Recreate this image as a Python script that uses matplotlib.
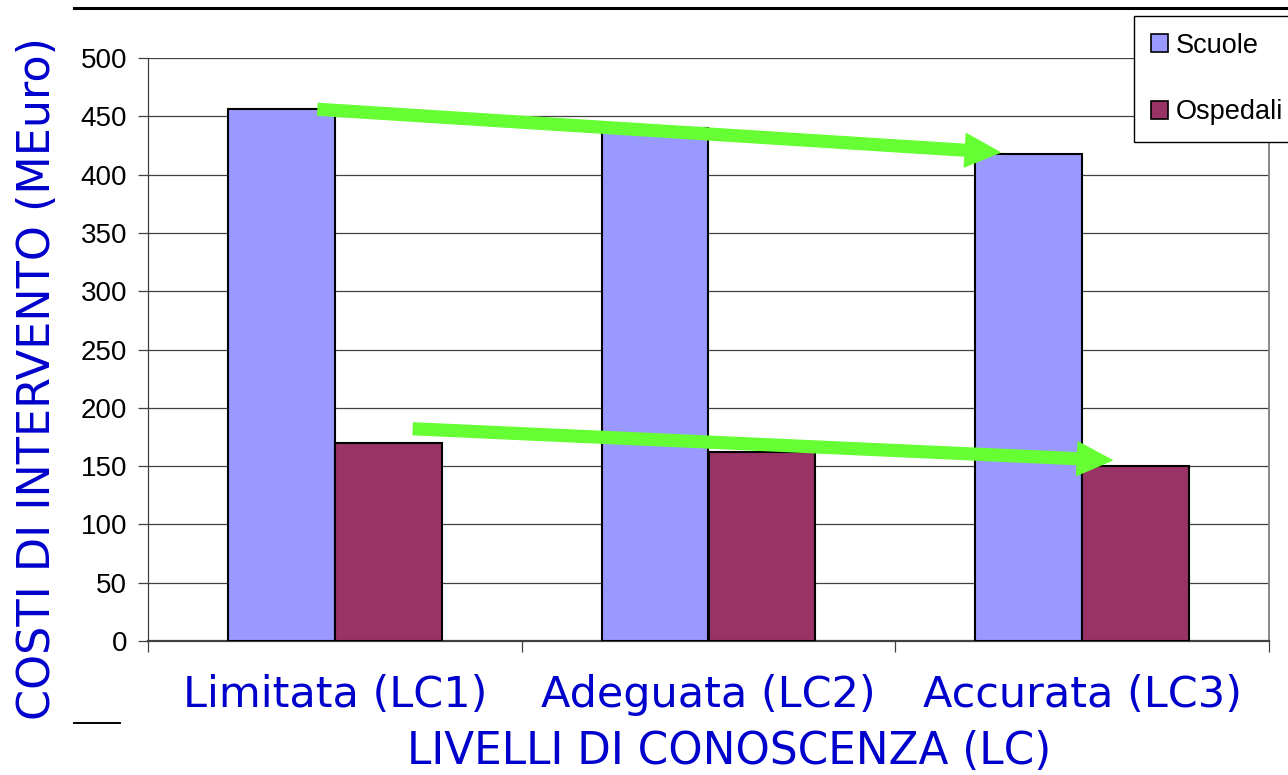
import numpy as np
import matplotlib.pyplot as plt
from matplotlib.patches import Patch
from matplotlib.lines import Line2D

categories = ['Limitata (LC1)', 'Adeguata (LC2)', 'Accurata (LC3)']
scuole = [456, 440, 418]
ospedali = [170, 162, 150]
series_names = ['Scuole', 'Ospedali']
yticks = [0, 50, 100, 150, 200, 250, 300, 350, 400, 450, 500]

# trend arrows (start -> end) in data units
arrows = [((-0.045, 456), (1.78, 419)),
          ((0.21, 182), (2.08, 155))]

blue_txt = '#0000CC'
c_scuole = '#9999FF'
c_osp = '#993366'
green = '#66FF33'

fig = plt.figure(figsize=(12.88, 7.75), dpi=100)
ax = fig.add_axes([148/1288, 1 - 641/775, 1121/1288, 583/775])

x = np.arange(len(categories))
w = 0.286
ax.bar(x - w/2, scuole, w, color=c_scuole, edgecolor='black', linewidth=1.5, zorder=3)
ax.bar(x + w/2, ospedali, w, color=c_osp, edgecolor='black', linewidth=1.5, zorder=3)

ax.set_xlim(-0.5, 2.5)
ax.set_ylim(0, 500)
ax.set_yticks(yticks)
ax.yaxis.grid(True, color='#404040', linewidth=0.9, zorder=0)
ax.set_axisbelow(True)
ax.tick_params(axis='y', direction='out', length=7, width=0.9, color='#404040',
               pad=8, labelsize=20)
for t in ax.get_yticklabels():
    t.set_fontfamily('Liberation Sans')

# boundaries ticks (major), labels at centres (minor)
ax.set_xticks([-0.5, 0.5, 1.5, 2.5])
ax.set_xticklabels([])
ax.tick_params(axis='x', which='major', direction='out', length=8, width=0.9, color='#404040')
ax.set_xticks(x, minor=True)
ax.set_xticklabels(categories, minor=True, fontsize=31, color=blue_txt)
ax.tick_params(axis='x', which='minor', length=0, pad=24)

ax.spines['top'].set_visible(False)
ax.spines['left'].set_color('#404040')
ax.spines['left'].set_linewidth(0.9)
ax.spines['bottom'].set_color('#404040')
ax.spines['bottom'].set_linewidth(1.6)
ax.spines['right'].set_color('#808080')
ax.spines['right'].set_linewidth(1.3)

for (p0, p1) in arrows:
    ax.annotate('', xy=p1, xytext=p0,
                arrowprops=dict(arrowstyle='simple,head_length=2.5,head_width=2.4,tail_width=0.85',
                                color=green, mutation_scale=10, shrinkA=0, shrinkB=0),
                zorder=5, annotation_clip=False)

fig.text(38/1288, 1 - 379/775, 'COSTI DI INTERVENTO (MEuro)', rotation=90,
         ha='center', va='center', fontsize=32, color=blue_txt)
fig.text(729/1288, 1 - 752/775, 'LIVELLI DI CONOSCENZA (LC)',
         ha='center', va='center', fontsize=31.5, color=blue_txt)

handles = [Patch(facecolor=c_scuole, edgecolor='black', linewidth=1.2),
           Patch(facecolor=c_osp, edgecolor='black', linewidth=1.2)]
leg = fig.legend(handles, series_names, loc='upper left',
                 bbox_to_anchor=(1134/1288, 1 - 16/775),
                 prop={'family': 'Liberation Sans', 'size': 19.5},
                 handlelength=0.62, handleheight=0.62, handletextpad=0.3,
                 labelspacing=1.5, borderpad=0.62, borderaxespad=0,
                 fancybox=False, framealpha=1, edgecolor='black')
leg.get_frame().set_linewidth(1.0)

fig.add_artist(Line2D([74/1288, 1], [1 - 8/775, 1 - 8/775], color='black', linewidth=2.2))
fig.add_artist(Line2D([74/1288, 120/1288], [1 - 723/775, 1 - 723/775], color='black', linewidth=1.4))

fig.savefig('out.png', dpi=100)
